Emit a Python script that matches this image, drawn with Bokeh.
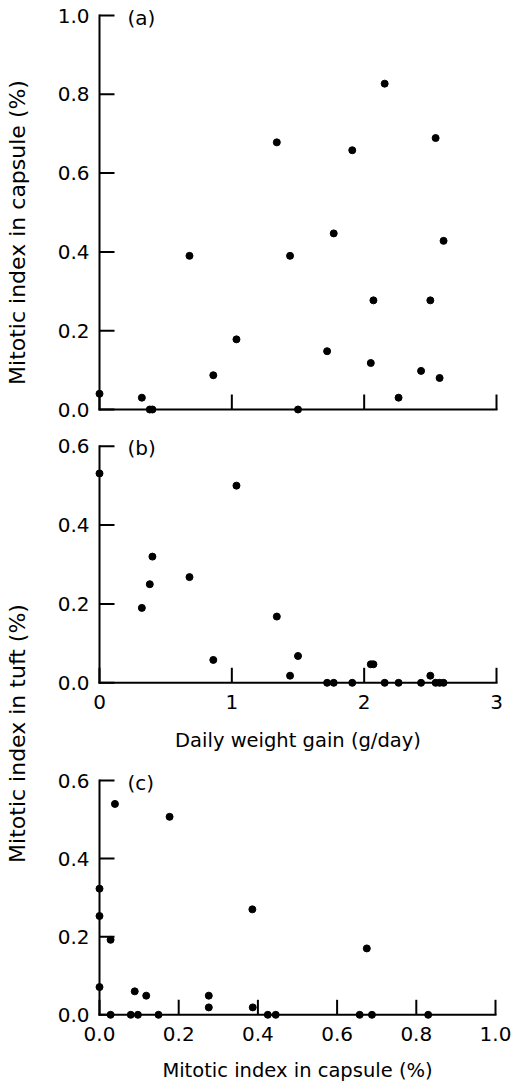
import math
from bokeh.plotting import figure
from bokeh.models import Range1d, Label
from bokeh.core.properties import value
from bokeh.layouts import row, column
from bokeh.embed import file_html
from bokeh.resources import INLINE

# ---- data ----
gain = [0.0, 0.32, 0.38, 0.40, 0.68, 0.86, 1.035, 1.34, 1.44, 1.50, 1.72,
        1.77, 1.91, 2.05, 2.07, 2.155, 2.26, 2.43, 2.50, 2.54, 2.57, 2.60]
capsule_a = [0.04, 0.03, 0.0, 0.0, 0.39, 0.087, 0.178, 0.678, 0.39, 0.0, 0.148,
             0.447, 0.658, 0.118, 0.277, 0.827, 0.03, 0.098, 0.277, 0.689, 0.08, 0.428]
tuft_b = [0.531, 0.19, 0.25, 0.32, 0.268, 0.058, 0.50, 0.168, 0.018, 0.068, 0.0,
          0.0, 0.0, 0.047, 0.047, 0.0, 0.0, 0.0, 0.018, 0.0, 0.0, 0.0]
capsule_c = [0.0, 0.0, 0.0, 0.028, 0.089, 0.118, 0.276, 0.276, 0.386, 0.387, 0.675,
             0.028, 0.079, 0.097, 0.149, 0.425, 0.445, 0.657, 0.688, 0.83, 0.039, 0.177]
tuft_c = [0.323, 0.253, 0.071, 0.192, 0.06, 0.049, 0.049, 0.019, 0.27, 0.019, 0.17,
          0.0, 0.0, 0.0, 0.0, 0.0, 0.0, 0.0, 0.0, 0.0, 0.54, 0.507]

ticks_gain = [0, 1, 2, 3]
labels_gain = ["0", "1", "2", "3"]
ticks_cap = [0.0, 0.2, 0.4, 0.6, 0.8, 1.0]
labels_cap = ["0.0", "0.2", "0.4", "0.6", "0.8", "1.0"]
ticks_tuft = [0.0, 0.2, 0.4, 0.6]
labels_tuft = ["0.0", "0.2", "0.4", "0.6"]

FONT = "DejaVu Sans"
TICK_FS = "20px"
LEFT = 46          # width of the y-title strip
W = 511 - LEFT     # width of each panel canvas


class Panel:
    """Figure whose frame fills the canvas; axes drawn from the tick lists."""

    def __init__(self, top, bottom, xt, xpx, yt, ypx):
        # xt/yt: two tick values, xpx/ypx: their pixel positions on the page
        self.sx = (xpx[1] - xpx[0]) / (xt[1] - xt[0])
        self.sy = (ypx[0] - ypx[1]) / (yt[1] - yt[0])
        x0 = xt[0] - (xpx[0] - LEFT) / self.sx
        x1 = xt[0] + (511 - xpx[0]) / self.sx
        y1 = yt[0] + (ypx[0] - top) / self.sy
        y0 = yt[0] - (bottom - ypx[0]) / self.sy
        p = figure(width=W, height=bottom - top, x_range=Range1d(x0, x1),
                   y_range=Range1d(y0, y1), output_backend="svg",
                   toolbar_location=None, x_axis_location=None, y_axis_location=None,
                   min_border=0)
        p.grid.visible = False
        p.outline_line_color = None
        p.background_fill_color = "white"
        p.border_fill_color = "white"
        self.p = p

    def axes(self, xticks, xlabels, yticks, ylabels, show_x_labels=True):
        p = self.p
        tick_len_x = 15 / self.sy   # vertical ticks on the x axis
        tick_len_y = 15 / self.sx   # horizontal ticks on the y axis
        # axis rules
        p.segment(x0=[xticks[0]], y0=[0], x1=[xticks[-1]], y1=[0],
                  line_color="black", line_width=2, line_cap="square")
        p.segment(x0=[0], y0=[yticks[0]], x1=[0], y1=[yticks[-1]],
                  line_color="black", line_width=2, line_cap="square")
        # inward ticks
        p.segment(x0=xticks, y0=[0] * len(xticks), x1=xticks,
                  y1=[tick_len_x] * len(xticks), line_color="black", line_width=2)
        p.segment(x0=[0] * len(yticks), y0=yticks, x1=[tick_len_y] * len(yticks),
                  y1=yticks, line_color="black", line_width=2)
        # y tick labels
        p.text(x=[-10 / self.sx] * len(yticks), y=yticks, text=ylabels,
               text_align="right", text_baseline="middle", text_font=value(FONT),
               text_font_size=TICK_FS, text_color="black")
        if show_x_labels:
            p.text(x=xticks, y=[-19 / self.sy] * len(xticks), text=xlabels,
                   text_align="center", text_baseline="middle", text_font=value(FONT),
                   text_font_size=TICK_FS, text_color="black")

    def tag(self, ytop, text):
        self.p.text(x=[28 / self.sx], y=[ytop - 2 / self.sy], text=[text],
                    text_align="left", text_baseline="middle", text_font=value(FONT),
                    text_font_size="20px", text_color="black")

    def xtitle(self, xc, below_px, text):
        self.p.text(x=[xc], y=[-below_px / self.sy], text=[text],
                    text_align="center", text_baseline="middle", text_font=value(FONT),
                    text_font_size="19.5px", text_color="black")


# ---- panel (a) ----
A = Panel(0, 428, (0, 3), (99, 496), (0.0, 1.0), (409, 15))
A.p.scatter(gain, capsule_a, size=7, color="black")
A.axes(ticks_gain, labels_gain, ticks_cap, labels_cap, show_x_labels=False)
A.tag(ticks_cap[-1], "(a)")

# ---- panel (b) ----
B = Panel(428, 760, (0, 3), (99, 496), (0.0, 0.6), (682.3, 445.7))
B.p.scatter(gain, tuft_b, size=7, color="black")
B.axes(ticks_gain, labels_gain, ticks_tuft, labels_tuft)
B.tag(ticks_tuft[-1], "(b)")
B.xtitle((ticks_gain[0] + ticks_gain[-1]) / 2, 57.7, "Daily weight gain (g/day)")

# ---- panel (c) ----
C = Panel(760, 1083, (0.0, 1.0), (99, 495), (0.0, 0.6), (1014.3, 780))
C.p.scatter(capsule_c, tuft_c, size=7, color="black")
C.axes(ticks_cap, labels_cap, ticks_tuft, labels_tuft)
C.tag(ticks_tuft[-1], "(c)")
C.xtitle((ticks_cap[0] + ticks_cap[-1]) / 2, 55.7, "Mitotic index in capsule (%)")

# ---- y-axis titles strip ----
lf = figure(width=LEFT, height=1083, x_range=Range1d(0, LEFT), y_range=Range1d(1083, 0),
            output_backend="svg", toolbar_location=None, min_border=0,
            x_axis_location=None, y_axis_location=None)
lf.grid.visible = False
lf.outline_line_color = None
lf.add_layout(Label(x=17, y=232, text="Mitotic index in capsule (%)", angle=math.pi / 2,
                    text_align="center", text_baseline="middle", text_font=FONT,
                    text_font_size="22px", text_color="black"))
lf.add_layout(Label(x=17, y=733, text="Mitotic index in tuft (%)", angle=math.pi / 2,
                    text_align="center", text_baseline="middle", text_font=FONT,
                    text_font_size="22px", text_color="black"))

layout = row(lf, column(A.p, B.p, C.p))
open("out.html", "w").write(file_html(layout, INLINE))
